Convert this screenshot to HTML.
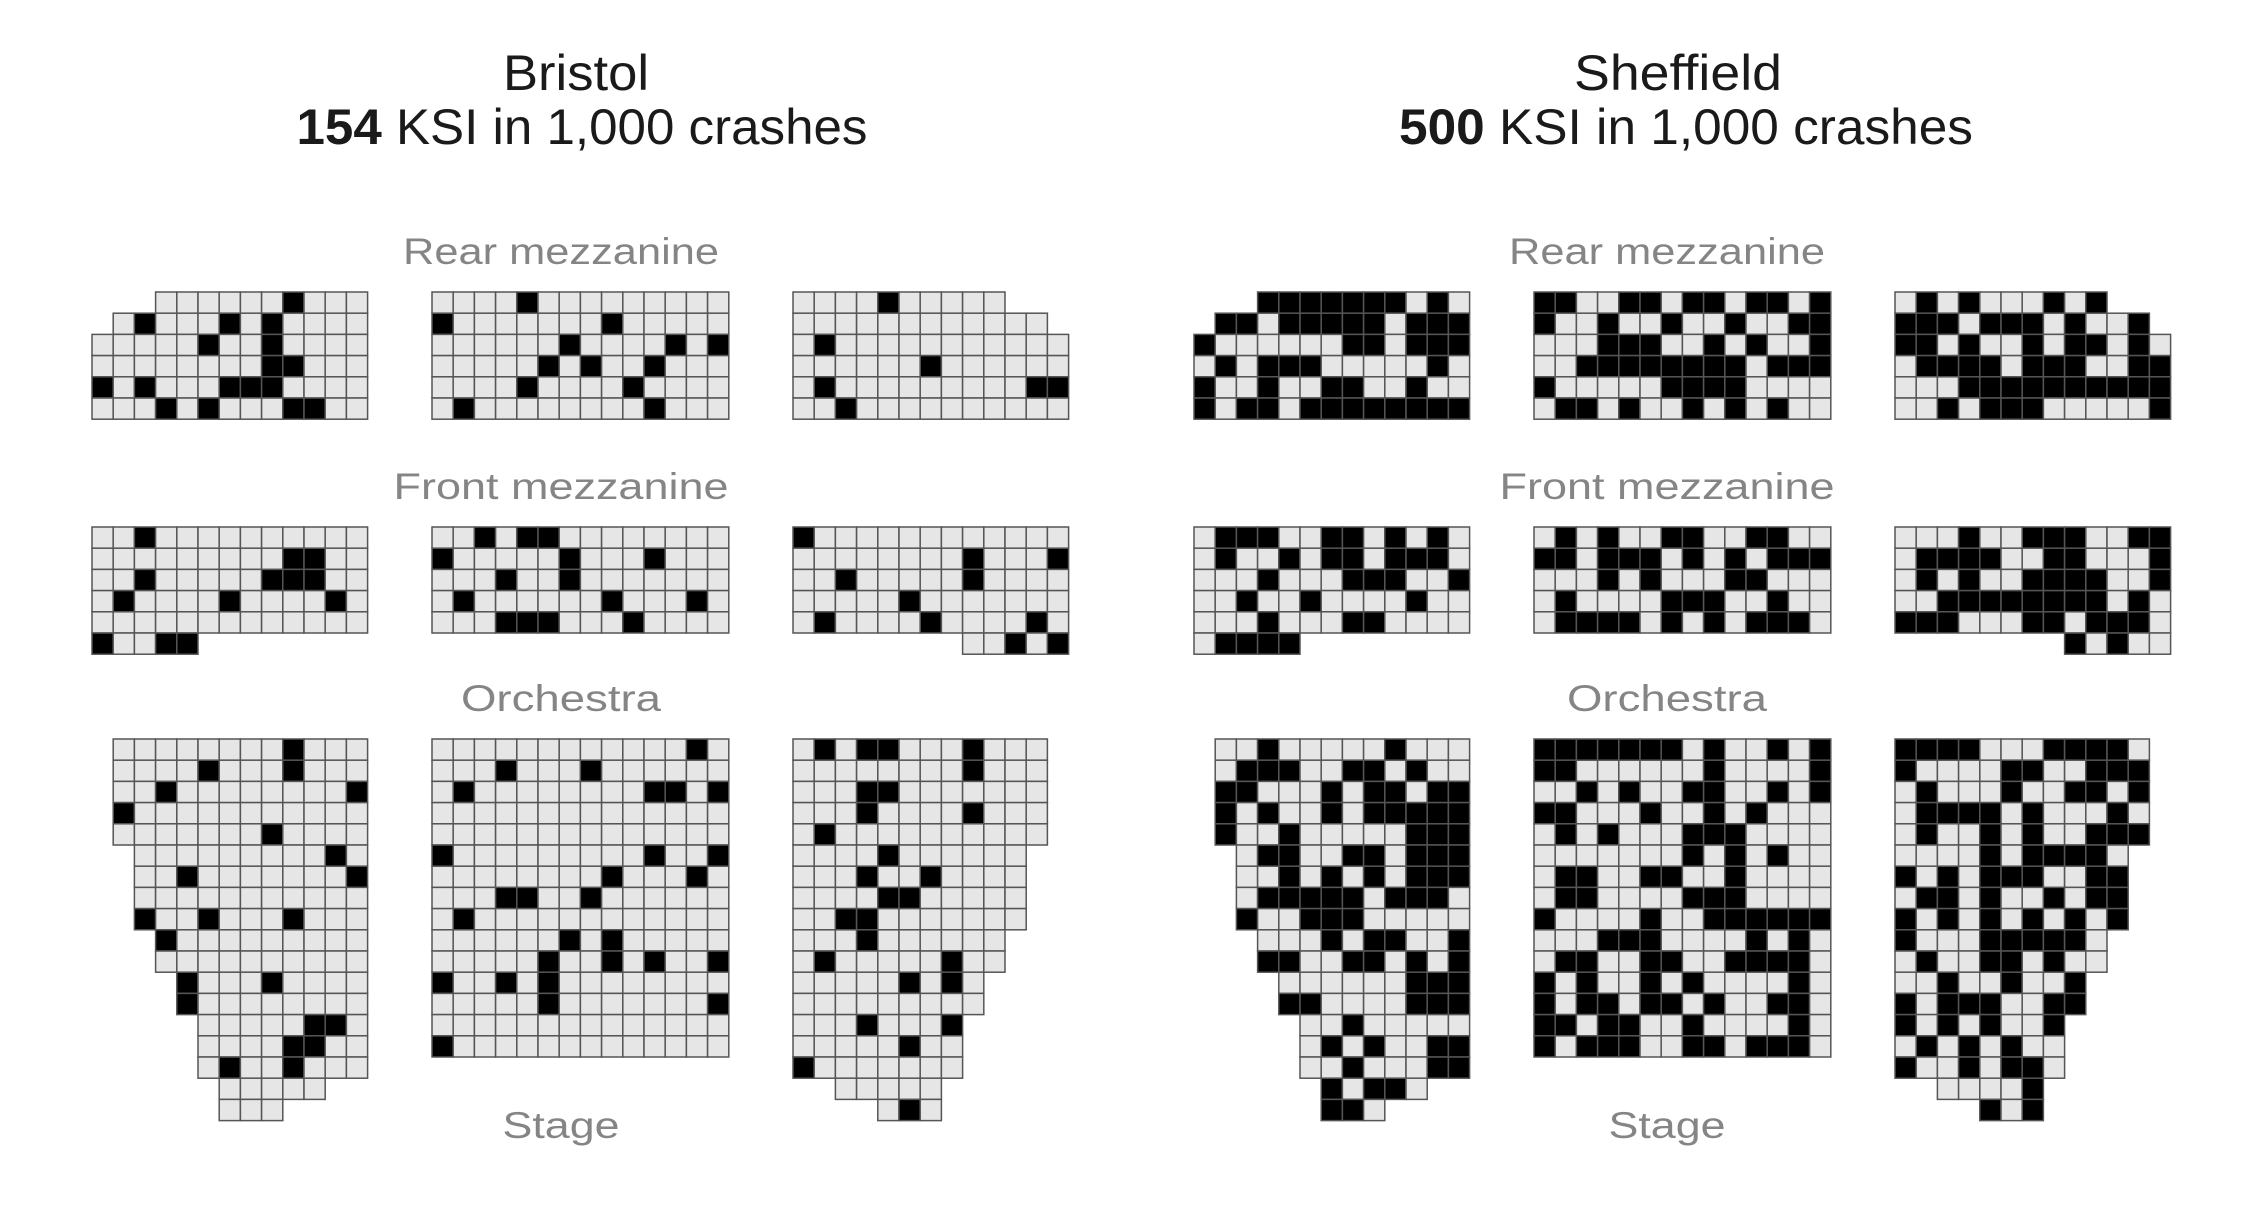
<!DOCTYPE html>
<html><head><meta charset="utf-8"><title>KSI seating chart</title>
<style>html,body{margin:0;padding:0;background:#fff;}svg{display:block;}</style>
</head><body>
<svg id="chart" xmlns="http://www.w3.org/2000/svg" width="2250" height="1230" viewBox="0 0 2250 1230" font-family="'Liberation Sans', sans-serif">
<rect width="2250" height="1230" fill="#fff"/>
<g>
<text x="576" y="90" font-size="50" fill="#1a1a1a" text-anchor="middle" textLength="146" lengthAdjust="spacingAndGlyphs">Bristol</text>
<text x="582" y="144" font-size="50" fill="#1a1a1a" text-anchor="middle" textLength="571" lengthAdjust="spacingAndGlyphs"><tspan font-weight="bold">154</tspan> KSI in 1,000 crashes</text>
</g>
<g>
<text x="1678" y="90" font-size="50" fill="#1a1a1a" text-anchor="middle" textLength="208" lengthAdjust="spacingAndGlyphs">Sheffield</text>
<text x="1686" y="144" font-size="50" fill="#1a1a1a" text-anchor="middle" textLength="574" lengthAdjust="spacingAndGlyphs"><tspan font-weight="bold">500</tspan> KSI in 1,000 crashes</text>
</g>
<g id="labels"></g>
<g id="grids"></g>
</svg>
<script>
// ---- data: '1' = KSI seat (black), '0' = other seat, '.' = no seat ----
const bristolRearLeft = ["...0000001000",".010001010000","0000010010000","0000000011000","1010001110000","0001010001100"];
const bristolRearMid = ["00001000000000","10000000100000","00000010000101","00000101001000","00001000010000","01000000001000"];
const bristolRearRight = ["0000100000...","000000000000.","0100000000000","0000001000000","0100000000011","0010000000000"];
const bristolFrontLeft = ["0010000000000","0000000001100","0010000011100","0100001000010","0000000000000","10011........"];
const bristolFrontMid = ["00101100000000","10000010001000","00010010000000","01000000100010","00011100010000"];
const bristolFrontRight = ["1000000000000","0000000010001","0010000010000","0000010000000","0100001000010","........00101"];
const bristolOrchLeft = [".000000001000",".000010001000",".001000000001",".100000000000",".000000010000","..00000000010","..00100000001","..00000000000","..10010001000","...1000000000","...0000000000","....100010000","....100000000",".....00000110",".....00001100",".....01001000","......00000..","......000...."];
const bristolOrchMid = ["00000000000010","00010001000000","01000000001101","00000000000000","00000000000000","10000000001001","00000000100010","00011001000000","01000000000000","00000010100000","00000100101001","10010100000000","00000100000001","00000000000000","10000000000000"];
const bristolOrchRight = ["010110001000","000000001000","000110000000","000100001000","010000000000","00001000000.","00010010000.","00001100000.","00110000000.","0001000000..","0100000100..","000001010...","000000000...","00010001....","00000100....","10000000....","..00000.....","....010....."];

const sheffieldRearLeft = ["...1111111010",".110111110111","1000000110111","0101110000010","1001001100100","1011011111111"];
const sheffieldRearMid = ["11001101101101","10010010010011","00011100101001","00111111110111","10000011110000","01101001010100"];
const sheffieldRearRight = ["0101000101...","111011101001.","1101001011010","0111101110011","0001111111111","0010111000001"];
const sheffieldFrontLeft = ["0111001101010","0100101101110","0001000111001","0010010000100","0001000110000","01111........"];
const sheffieldFrontMid = ["01010011001100","11011101010111","00010100011000","01000011100100","01111010101110"];
const sheffieldFrontRight = ["0001001110011","0111100110001","0101001111001","0011111111010","1110001101110","........10100"];
const sheffieldOrchLeft = [".001000001000",".011100110100",".110001011011",".101001011111",".100100000111","..01100110111","..00101010111","..01111101110","..10011100000","...0001011001","...1100110101","....000000111","....110000111",".....00100000",".....01010011",".....00100011","......10110..","......110...."];
const sheffieldOrchMid = ["11111110100101","11000000100001","00101001100101","11000100101000","01010001110000","00000001010100","01100110010000","01100001110000","10000100111111","00011100001010","01100110011110","10100101000010","10110110100110","11011001000010","10111001101110"];
const sheffieldOrchRight = ["111100011110","100001100111","010001001101","011110100010","010010100111","00001011110.","10101110011.","01101001011.","10101010101.","1000111110..","0100110100..","001001001...","101110011...","10101001....","01010100....","10010110....","..00001.....","....101....."];

const sectionLabels = ["Rear mezzanine","Front mezzanine","Orchestra","Stage"];

// ---- layout ----
const NS = "http://www.w3.org/2000/svg";
const CELL = 21.2;
const colX = [92, 432, 793];
const rowY = [292, 527, 739];
const cityOffset = [0, 1102];
const labelY = [264, 499, 711, 1138];
const labelW = [316, 335, 200, 117];
const labelCx = [561, 1667];

const cities = [
  {name: "bristol", blocks: [[bristolRearLeft, bristolRearMid, bristolRearRight],[bristolFrontLeft, bristolFrontMid, bristolFrontRight],[bristolOrchLeft, bristolOrchMid, bristolOrchRight]]},
  {name: "sheffield", blocks: [[sheffieldRearLeft, sheffieldRearMid, sheffieldRearRight],[sheffieldFrontLeft, sheffieldFrontMid, sheffieldFrontRight],[sheffieldOrchLeft, sheffieldOrchMid, sheffieldOrchRight]]}
];
const tierNames = ["rear-mezzanine","front-mezzanine","orchestra"];
const sideNames = ["left","center","right"];

const gGrids = document.getElementById("grids");
const gLabels = document.getElementById("labels");

cities.forEach((city, ci) => {
  sectionLabels.forEach((lab, li) => {
    const t = document.createElementNS(NS, "text");
    
    
    t.setAttribute("x", labelCx[ci]);
    t.setAttribute("y", labelY[li]);
    t.setAttribute("font-size", "37");
    t.setAttribute("fill", "#858585");
    t.setAttribute("text-anchor", "middle");
    t.setAttribute("textLength", labelW[li]);
    t.setAttribute("lengthAdjust", "spacingAndGlyphs");
    t.textContent = lab;
    gLabels.appendChild(t);
  });
  city.blocks.forEach((tier, ti) => {
    tier.forEach((rows, si) => {
      const g = document.createElementNS(NS, "g");
      
      
      const x0 = colX[si] + cityOffset[ci];
      const y0 = rowY[ti];
      rows.forEach((row, r) => {
        for (let c = 0; c < row.length; c++) {
          const v = row[c];
          if (v === ".") continue;
          const rect = document.createElementNS(NS, "rect");
          
          
          rect.setAttribute("x", (x0 + c * CELL).toFixed(2));
          rect.setAttribute("y", (y0 + r * CELL).toFixed(2));
          rect.setAttribute("width", CELL.toFixed(2));
          rect.setAttribute("height", CELL.toFixed(2));
          rect.setAttribute("fill", v === "1" ? "#000" : "#e6e6e6");
          rect.setAttribute("stroke", "#555");
          rect.setAttribute("stroke-width", "1.5");
          g.appendChild(rect);
        }
      });
      gGrids.appendChild(g);
    });
  });
});
</script>
</body></html>
